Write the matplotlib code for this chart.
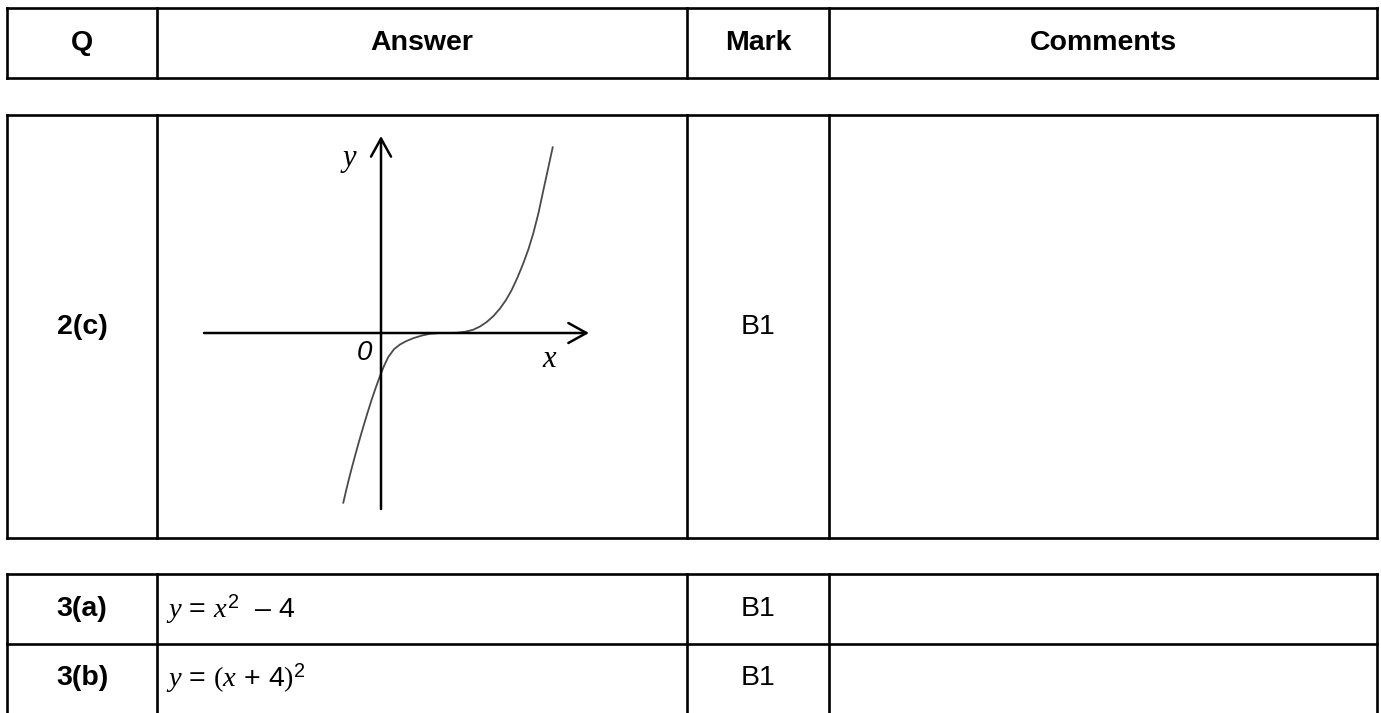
import matplotlib
matplotlib.use('Agg')
import matplotlib.pyplot as plt

plt.rcParams['font.family'] = 'Liberation Sans'
plt.rcParams['mathtext.fontset'] = 'custom'
plt.rcParams['mathtext.it'] = 'Liberation Serif:italic'
plt.rcParams['mathtext.rm'] = 'Liberation Serif'
plt.rcParams['mathtext.sf'] = 'Liberation Sans'

# table content
headers = ['Q', 'Answer', 'Mark', 'Comments']
questions = ['2(c)', '3(a)', '3(b)']
answers = [None, r'$y$ = $x^{\mathsf{2}}$  – 4', r'$y$ = $(x$ + 4$)^{\mathsf{2}}$']
marks = ['B1', 'B1', 'B1']

# sketch of the cubic (sketch units, origin at the axes crossing)
curve_x = [-3.77, -3.5, -3.27, -2.95, -2.6, -2.2, -1.77, -1.35, -0.93, -0.5, -0.1, 0.3,
           0.73, 1.3, 1.9, 2.55, 3.23, 4.1, 4.9, 5.9, 6.7, 7.57, 8.4, 9.23, 9.9, 10.57,
           11.25, 11.9, 12.5, 13.07, 13.65, 14.23, 14.75, 15.23, 15.75, 16.23, 16.7, 17.17]
curve_y = [-16.97, -15.8, -14.85, -13.6, -12.3, -10.85, -9.37, -7.98, -6.65, -5.4, -4.3, -3.3,
           -2.4, -1.62, -1.15, -0.8, -0.52, -0.25, -0.08, 0.0, 0.0, 0.02, 0.12, 0.33, 0.65, 1.1,
           1.7, 2.45, 3.3, 4.3, 5.55, 6.97, 8.4, 9.97, 12.0, 14.25, 16.4, 18.57]
axis_x = (-17.7, 20.8)
axis_y = (-17.6, 19.7)

W, H = 1381, 713
fig = plt.figure(figsize=(W / 100, H / 100), dpi=100)
ax = fig.add_axes([0, 0, 1, 1])
ax.set_xlim(0, W)
ax.set_ylim(H, 0)
ax.axis('off')

cols = [7, 157, 687, 829, 1377]
col_mid = [(a + b) / 2 for a, b in zip(cols[:-1], cols[1:])]
LW = 1.9


def grid(xs, ys):
    for x in xs:
        ax.plot([x, x], [ys[0], ys[-1]], color='k', lw=LW, solid_capstyle='projecting')
    for y in ys:
        ax.plot([xs[0], xs[-1]], [y, y], color='k', lw=LW, solid_capstyle='projecting')


FS = 20.5

# header
grid(cols, [8, 78])
for c, h in zip(col_mid, headers):
    ax.text(c, 43, h, ha='center', va='center', fontsize=FS, fontweight='bold')

# 2(c) block
grid(cols, [115, 538])
ax.text(col_mid[0], 327, questions[0], ha='center', va='center', fontsize=FS, fontweight='bold')
ax.text(col_mid[2], 327, marks[0], ha='center', va='center', fontsize=FS)

# 3(a), 3(b) block
rows = [574, 644, 720]
grid(cols, rows)
for i, yc in enumerate([609, 678]):
    ax.text(col_mid[0], yc, questions[i + 1], ha='center', va='center', fontsize=FS, fontweight='bold')
    ax.text(166, yc, answers[i + 1], ha='left', va='center', fontsize=FS)
    ax.text(col_mid[2], yc, marks[i + 1], ha='center', va='center', fontsize=FS)

# graph in the 2(c) answer cell, 10 px per sketch unit
ox, oy = 381, 333
gx0, gx1, gy0, gy1 = 200, 600, 130, 520
gax = fig.add_axes([gx0 / W, 1 - gy1 / H, (gx1 - gx0) / W, (gy1 - gy0) / H])
gax.set_xlim((gx0 - ox) / 10, (gx1 - ox) / 10)
gax.set_ylim((oy - gy1) / 10, (oy - gy0) / 10)
gax.axis('off')

arrow = dict(arrowstyle='->,head_length=0.65,head_width=0.36', mutation_scale=20,
             lw=1.8, color='k', shrinkA=0, shrinkB=0)
gax.annotate('', xy=(axis_x[1], 0), xytext=(axis_x[0], 0), arrowprops=arrow)
gax.annotate('', xy=(0, axis_y[1]), xytext=(0, axis_y[0]), arrowprops=arrow)
gax.plot(curve_x, curve_y, color='#4a4a4a', lw=1.3, solid_joinstyle='round')

gax.text(-3.2, 17.3, '$y$', fontsize=22, ha='center', va='center')
gax.text(16.9, -2.6, '$x$', fontsize=22, ha='center', va='center')
gax.text(-1.7, -2.0, '0', fontsize=20, style='italic', ha='center', va='center')

fig.savefig('out.png', dpi=100)
